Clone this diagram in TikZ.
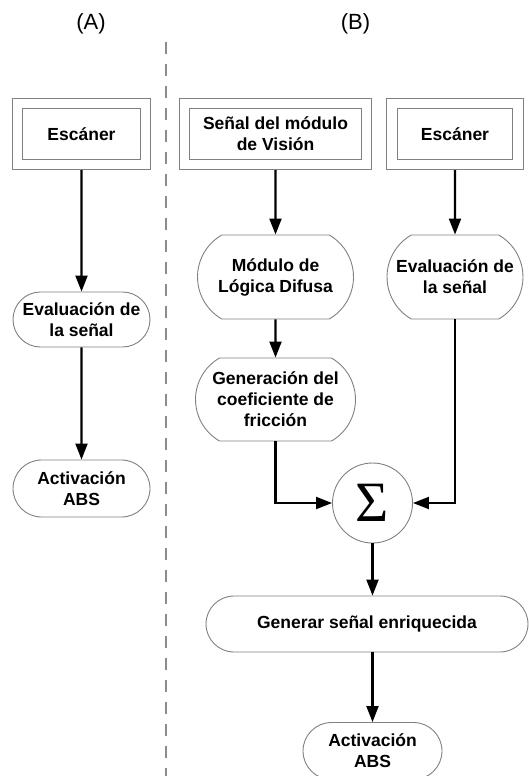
\documentclass[tikz,border=0pt]{standalone}
\usepackage{fontspec}
\setmainfont{Liberation Sans}
\newfontfamily\sigmafont{Liberation Serif}
\usetikzlibrary{arrows.meta,shapes.misc}

\tikzset{
inbox/.style={draw=black!50, line width=0.9pt, double, double distance=9.6pt, outer sep=5.7pt, inner sep=0pt, align=center, font=\bfseries\fontsize{17.5}{21}\selectfont},
term/.style={draw=black!50, line width=0.9pt, rounded rectangle, inner sep=0pt, align=center, font=\bfseries\fontsize{17.5}{21}\selectfont},
tall/.style={rounded rectangle arc length=120},
arr/.style={line width=2.1pt, -{Triangle[length=16pt,width=12pt]}}
}

\begin{document}
\begin{tikzpicture}[x=1pt,y=-1pt]
\useasboundingbox (0,0) rectangle (529,776);

\node[font=\fontsize{22}{26}\selectfont] (labA) at (91,24) {(A)};
\node[font=\fontsize{22}{26}\selectfont] (labB) at (355.5,24) {(B)};

\coordinate (d0) at (166,42);
\coordinate (d1) at (166,776);
\draw[black!45, line width=2.5pt, dash pattern=on 12pt off 10pt] (d0)--(d1);

\node[inbox, minimum width=128pt, minimum height=61pt] (escA) at (81.5,134) {Escáner};
\node[term, minimum width=137pt, minimum height=55pt] (evalA) at (81.5,319.5) {Evaluación de\\la señal};
\node[term, minimum width=137pt, minimum height=57pt] (actA) at (81.5,488.5) {Activación\\ABS};

\node[inbox, minimum width=182pt, minimum height=61pt] (senal) at (275.5,134) {Señal del módulo\\de Visión};
\node[inbox, minimum width=126pt, minimum height=61pt] (escB) at (455,134) {Escáner};
\node[term, tall, minimum width=156pt, minimum height=84pt] (modulo) at (275.5,277) {Módulo de\\Lógica Difusa};
\node[term, tall, minimum width=136pt, minimum height=84pt] (evalB) at (455,277) {Evaluación de\\la señal};
\node[term, tall, minimum width=160pt, minimum height=83pt] (gen) at (275.5,399.5) {Generación del\\coeficiente de\\fricción};
\node[circle, draw=black!50, line width=0.9pt, minimum size=80pt, inner sep=0pt, font=\sigmafont\fontsize{57}{57}\selectfont] (sum) at (372.5,503) {Σ};
\node[term, minimum width=322pt, minimum height=56pt] (enr) at (367,624) {Generar señal enriquecida};
\node[term, minimum width=139pt, minimum height=57pt] (actB) at (372.5,751) {Activación\\ABS};

\draw[arr] (escA)--(evalA);
\draw[arr] (evalA)--(actA);
\draw[arr] (senal)--(modulo);
\draw[arr] (modulo)--(gen);
\draw[arr] (escB)--(evalB);
\draw[arr] (gen.south) |- (sum.west);
\draw[arr] (evalB.south) |- (sum.east);
\draw[arr] (sum.south) -- (sum.south |- enr.north);
\draw[arr] (actB.north |- enr.south) -- (actB.north);
\end{tikzpicture}
\end{document}
